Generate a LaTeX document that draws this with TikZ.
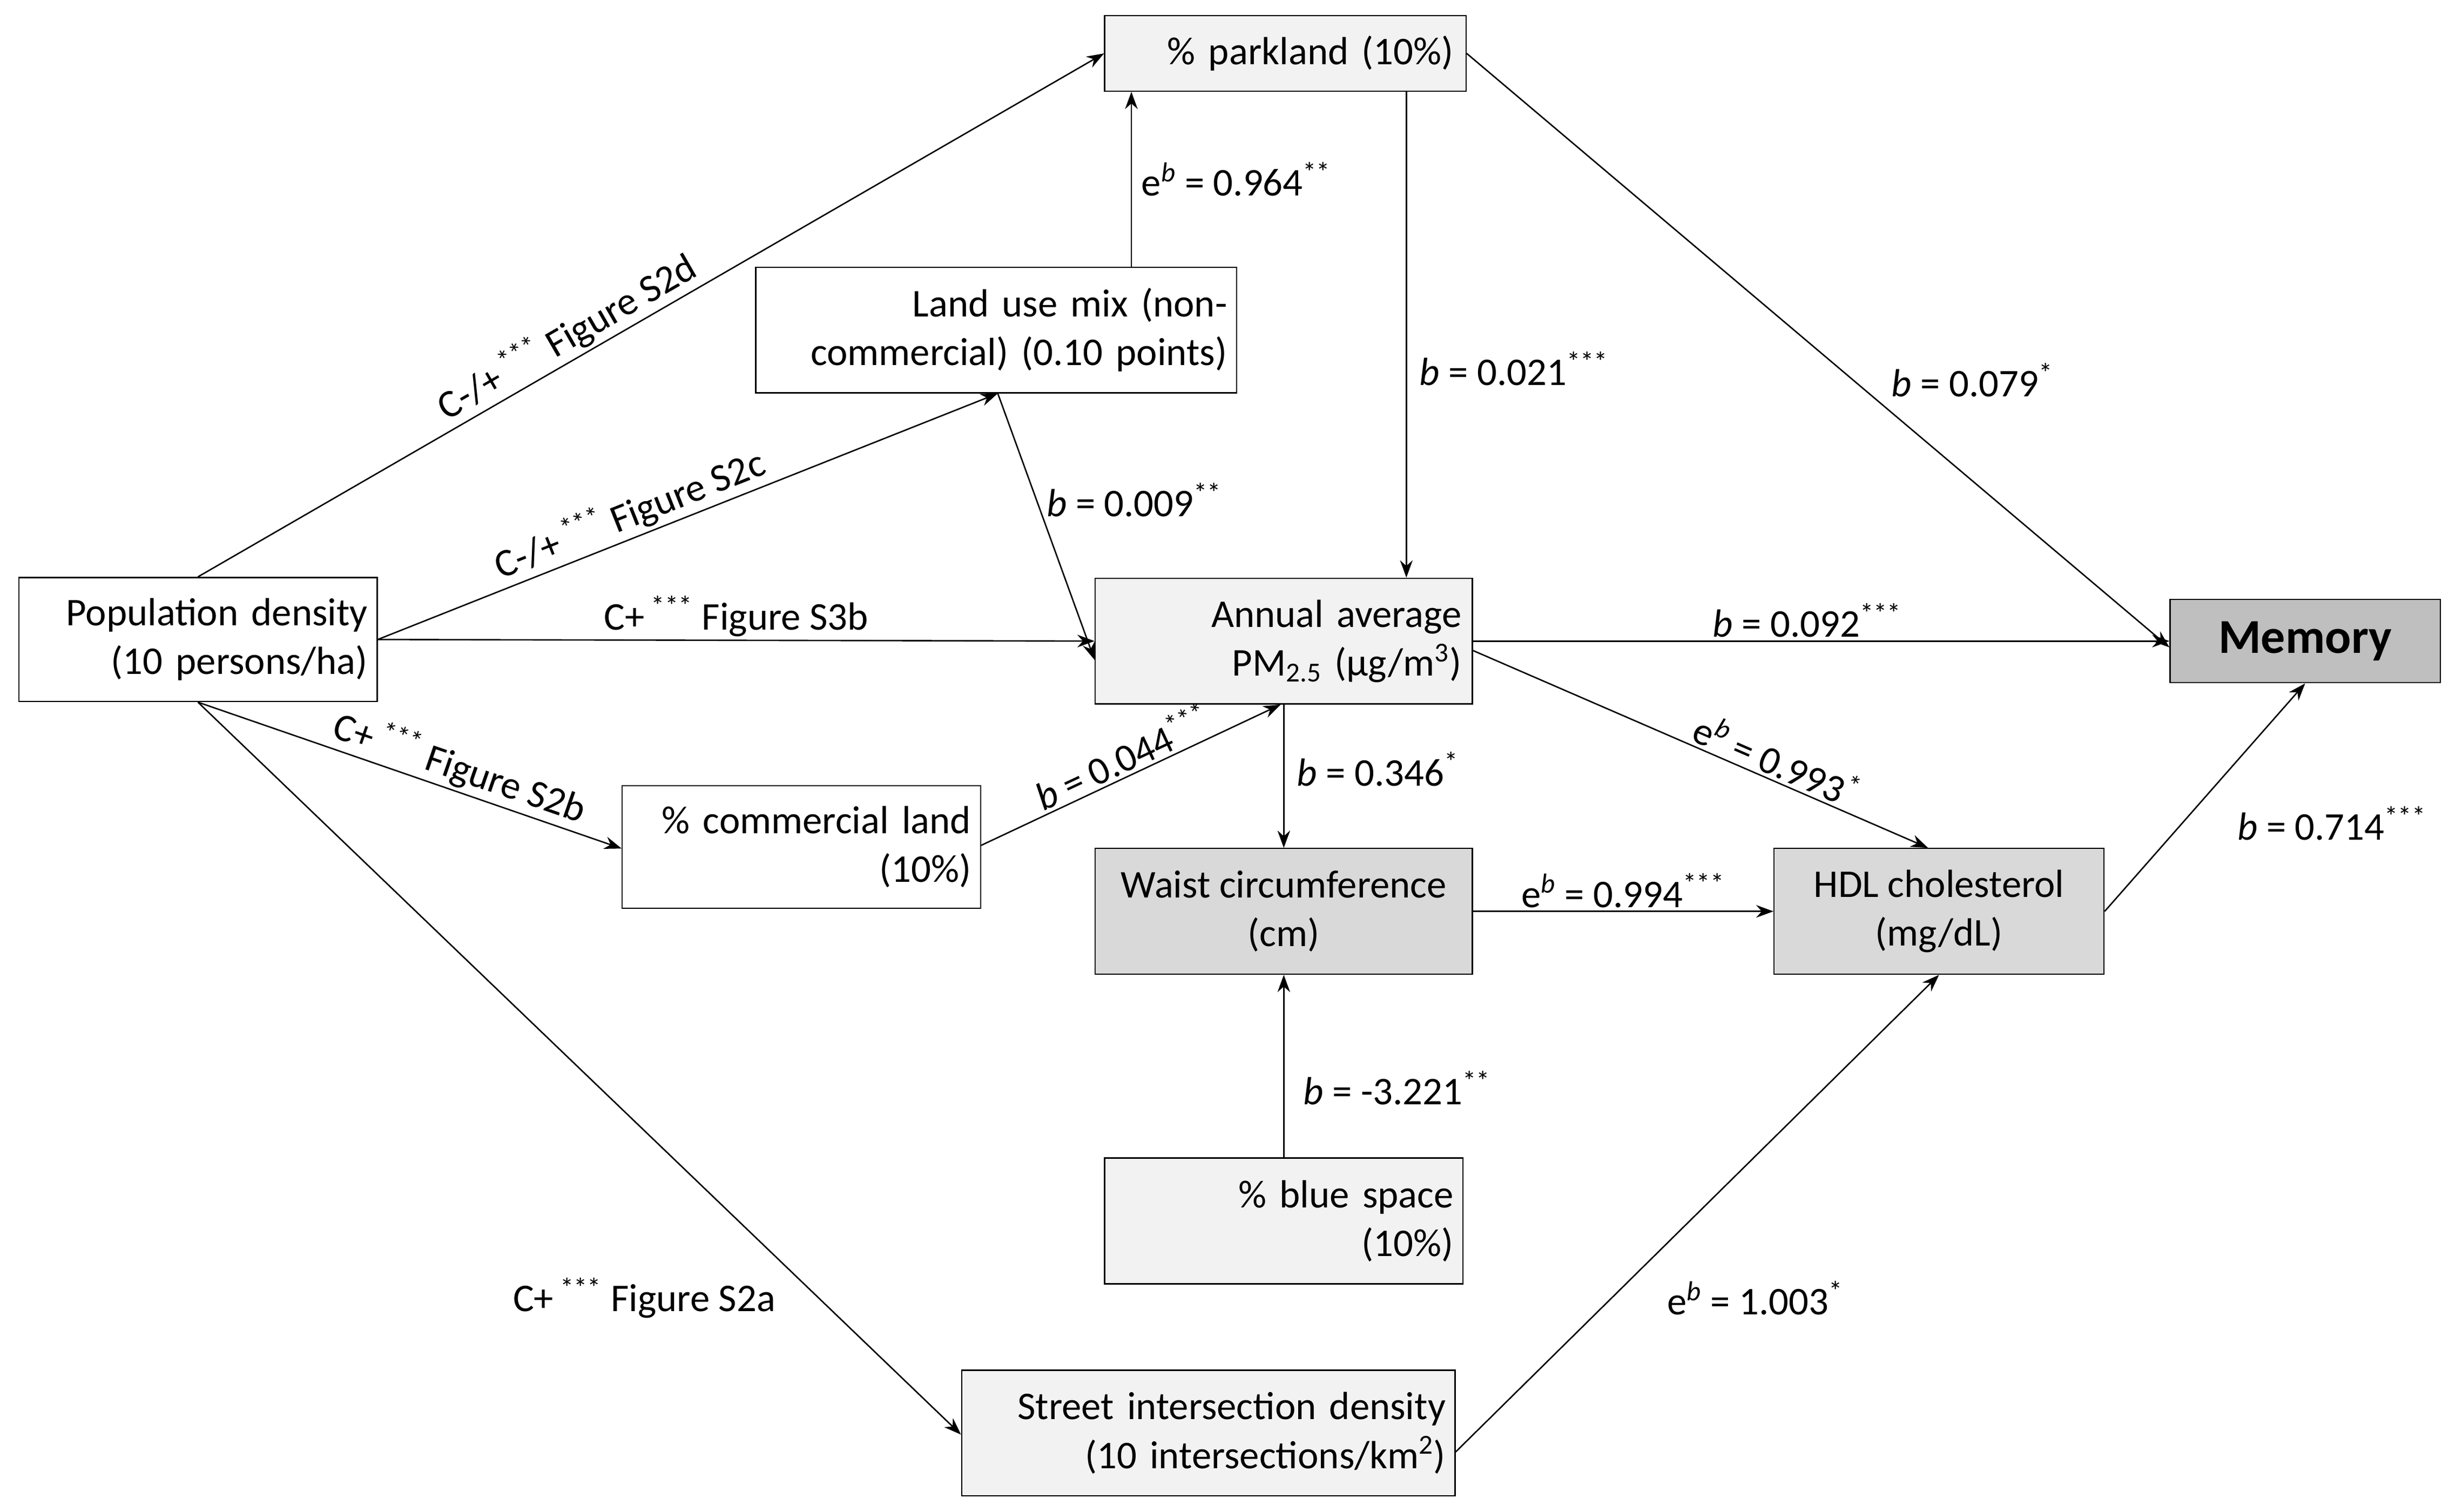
\documentclass[tikz,border=0pt]{standalone}
\usepackage{fontspec}
\setmainfont{Carlito}
\usetikzlibrary{arrows.meta}
\definecolor{lightbox}{HTML}{F2F2F2}
\definecolor{midbox}{HTML}{D9D9D9}
\definecolor{darkbox}{HTML}{BFBFBF}
\tikzstyle{var} = [rectangle, draw=black, line width=0.8pt, inner sep=4pt, font=\fontsize{25}{31}\selectfont, align=right]
\tikzstyle{arrow} = [line width=0.9pt, -{Stealth[length=11pt,width=8pt]}]
\tikzstyle{lab} = [font=\fontsize{25}{30}\selectfont, inner sep=2pt]
\newcommand{\bb}{\textit{b}}
\newcommand{\eb}{e\textsuperscript{\textit{b}}}
\newcommand{\st}[1]{\textsuperscript{#1}}

\begin{document}
\begin{tikzpicture}[x=1pt,y=-1pt]
      \useasboundingbox (0,0) rectangle (1563,962);
      \node (park) [var, fill=lightbox, minimum width=230, minimum height=48, text width=214] at (818,34) {\% parkland (10\%)\hspace*{4pt}};
      \node (mix) [var, fill=white, minimum width=306, minimum height=80, text width=294] at (634,210) {Land use mix (non-\\commercial) (0.10 points)};
      \node (pop) [var, fill=white, minimum width=228, minimum height=79, text width=216] at (126,407) {Population density\\(10 persons/ha)};
      \node (pm) [var, fill=lightbox, minimum width=240, minimum height=80, text width=226] at (817,408) {Annual average\\PM\textsubscript{2.5} (µg/m\textsuperscript{3})};
      \node (mem) [var, fill=darkbox, minimum width=172, minimum height=53, align=center, font=\fontsize{31}{36}\selectfont\bfseries] at (1467,408) {Memory};
      \node (comm) [var, fill=white, minimum width=228, minimum height=78, text width=216] at (510,539) {\% commercial land\\(10\%)};
      \node (waist) [var, fill=midbox, minimum width=240, minimum height=80, align=center] at (817,580) {Waist circumference\\(cm)};
      \node (hdl) [var, fill=midbox, minimum width=210, minimum height=80, align=center] at (1234,580) {HDL cholesterol\\(mg/dL)};
      \node (blue) [var, fill=lightbox, minimum width=228, minimum height=80, text width=216] at (817,777) {\% blue space\\(10\%)};
      \node (street) [var, fill=lightbox, minimum width=314, minimum height=80, text width=302] at (769,912) {Street intersection density\\(10 intersections/km\textsuperscript{2})};

      \draw[arrow] (pop.north) -- node[lab, sloped, above, pos=0.42]{C-/+\,\st{***} Figure S2d} (park.west);
      \draw[arrow] (pop.east) -- node[lab, sloped, above, pos=0.42]{C-/+\,\st{***} Figure S2c} ([xshift=1pt]mix.south);
      \draw[arrow] (pop.east) -- node[lab, above, pos=0.5]{C+\,\st{***} Figure S3b} (pm.west);
      \draw[arrow] (pop.south) -- node[lab, sloped, above, pos=0.6]{C+\,\st{***} Figure S2b} ([yshift=-1pt]comm.west);
      \draw[arrow] (pop.south) -- ([yshift=-1pt]street.west);
      \node[lab] at (410,826) {C+\,\st{***} Figure S2a};

      \draw[arrow] ([xshift=86pt]mix.north) -- node[lab, right=4pt, pos=0.5]{\eb{} = 0.964\st{**}} ([xshift=-98pt]park.south);
      \draw[arrow] ([xshift=1pt]mix.south) -- node[lab, right=4pt, pos=0.4]{\bb{} = 0.009\st{**}} ([yshift=-12pt]pm.west);
      \draw[arrow] ([xshift=77pt]park.south) -- node[lab, right=6pt, pos=0.57]{\bb{} = 0.021\st{***}} ([xshift=78pt]pm.north);
      \draw[arrow] (park.east) -- node[lab, right=22pt, pos=0.55]{\bb{} = 0.079\st{*}} ([yshift=-4pt]mem.west);
      \draw[arrow] (pm.east) -- node[lab, above, pos=0.48]{\bb{} = 0.092\st{***}} (mem.west);
      \draw[arrow] ([yshift=-6pt]pm.east) -- node[lab, sloped, above, pos=0.65]{\eb{} = 0.993\st{*}} ([xshift=-7pt]hdl.north);
      \draw[arrow] ([yshift=1pt]comm.east) -- node[lab, sloped, above, pos=0.5]{\bb{} = 0.044\st{***}} ([xshift=-2pt]pm.south);
      \draw[arrow] (pm.south) -- node[lab, right=6pt, pos=0.45]{\bb{} = 0.346\st{*}} (waist.north);
      \draw[arrow] (waist.east) -- node[lab, above, pos=0.5]{\eb{} = 0.994\st{***}} (hdl.west);
      \draw[arrow] (blue.north) -- node[lab, right=10pt, pos=0.38]{\bb{} = -3.221\st{**}} (waist.south);
      \draw[arrow] ([yshift=-12pt]street.east) -- (hdl.south);
      \node[lab] at (1117,826) {\eb{} = 1.003\st{*}};
      \draw[arrow] (hdl.east) -- (mem.south);
      \node[lab] at (1484,524) {\bb{} = 0.714\st{***}};
\end{tikzpicture}
\end{document}
